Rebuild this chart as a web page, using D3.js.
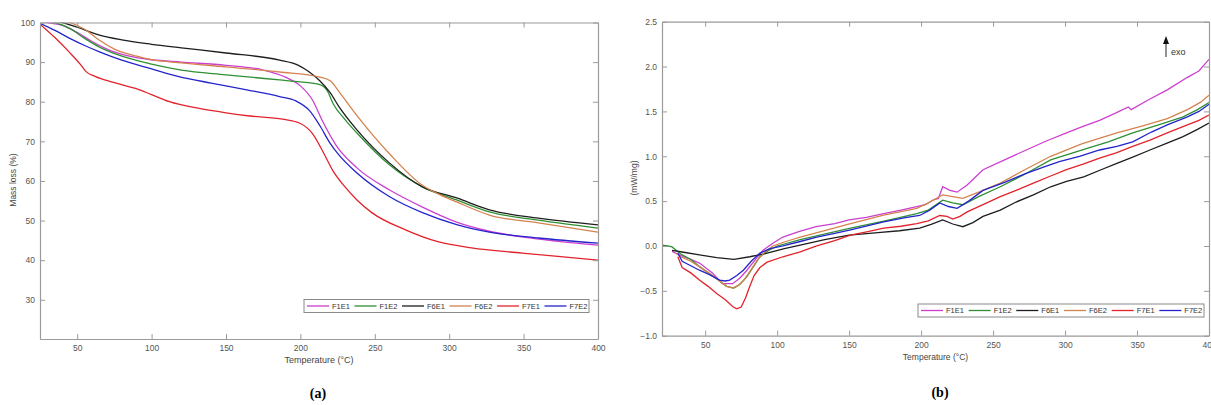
<!DOCTYPE html>
<html>
<head>
<meta charset="utf-8">
<script src="https://cdn.jsdelivr.net/npm/d3@7"></script>
<style>
  body { margin: 0; background: #fff; }
  text { font-family: "Liberation Sans", Arial, sans-serif; }
  .ax path, .ax line { stroke: #9a9a9a; }
  .ax text { fill: #555; }
</style>
</head>
<body>
<script>
// series names, as in the legends
var names = ["F1E1", "F1E2", "F6E1", "F6E2", "F7E1", "F7E2"];
var colors = ["#cc3fd0", "#2f8f35", "#1e1e1e", "#d4834f", "#e3222c", "#2424cc"];

// (a) TGA: [temperature, mass %]
var tgaF1E1 = [[25,100.5],[30,100],[40,99.3],[50,97.5],[60,95.2],[70,93.3],[85,91.5],[100,90.6],[120,90],[150,89.2],[175,88],[190,86.2],[200,84],[208,80.5],[215,75],[224,69],[238,63.3],[260,57.7],[282,53.4],[305,49.6],[327,47.3],[350,45.8],[375,44.7],[400,43.8]];
var tgaF1E2 = [[28,100.5],[35,100],[45,98.5],[55,96],[65,93.8],[80,91.5],[100,89.5],[120,88],[150,86.8],[186,85.5],[200,85],[213,84.3],[218,82.8],[222,79.5],[230,75.5],[238,72.1],[260,64],[282,58.5],[305,55.2],[327,52.2],[360,50.1],[400,48.1]];
var tgaF6E1 = [[30,100.5],[40,100],[50,98.8],[65,96.8],[80,95.6],[100,94.5],[120,93.6],[150,92.3],[186,90.5],[198,89.3],[206,87.5],[213,85.3],[220,82.3],[226,78.7],[238,72.9],[260,64.5],[282,58.5],[305,55.7],[327,52.7],[360,50.6],[400,48.9]];
var tgaF6E2 = [[35,101],[45,100],[55,98.3],[65,95.5],[75,93.3],[90,91.5],[100,90.6],[120,89.8],[150,88.8],[186,87.5],[213,86.2],[220,85.3],[226,82.5],[238,76.5],[260,66.8],[282,58.9],[295,56.3],[305,54.7],[327,51.4],[360,49.4],[400,47.1]];
var tgaF7E1 = [[25,99.6],[35,96.2],[45,92.4],[52,89.5],[56,87.6],[62,86.4],[75,84.8],[92,83],[100,81.8],[112,80],[132,78.3],[150,77.2],[166,76.4],[188,75.6],[200,74.5],[208,72],[215,67.5],[222,62.5],[230,58.5],[238,55.2],[248,52],[271,47.6],[293,44.6],[315,43.1],[349,41.8],[400,40]];
var tgaF7E2 = [[25,99.8],[35,98],[45,96],[55,94.2],[65,92.6],[80,90.5],[100,88.3],[119,86.3],[140,84.7],[164,83],[186,81.3],[197,80.2],[206,77.8],[213,74],[220,69.5],[226,66.5],[238,62],[260,56],[282,52],[305,49],[327,47.1],[360,45.6],[400,44.3]];

// (b) DSC: [temperature, mW/mg]
var dscF1E1 = [[27,-0.06],[32,-0.10],[40,-0.15],[46,-0.19],[55,-0.30],[62,-0.42],[69,-0.42],[74,-0.36],[79,-0.27],[85,-0.15],[90,-0.05],[97,0.03],[104,0.10],[115,0.16],[127,0.215],[140,0.25],[150,0.29],[162,0.32],[174,0.36],[186,0.40],[197,0.44],[203,0.46],[208,0.51],[212,0.53],[215,0.66],[220,0.62],[225,0.60],[232,0.68],[243,0.85],[258,0.96],[273,1.07],[287,1.17],[301,1.26],[312,1.33],[324,1.40],[335,1.48],[344,1.55],[346,1.52],[358,1.63],[371,1.74],[385,1.88],[393,1.95],[400,2.08]];
var dscF1E2 = [[20,0.01],[24,0.0],[27,-0.01],[30,-0.05],[33,-0.09],[40,-0.15],[46,-0.23],[55,-0.33],[65,-0.45],[70,-0.47],[74,-0.43],[79,-0.34],[84,-0.22],[88,-0.12],[94,-0.05],[100,0.0],[116,0.07],[135,0.14],[151,0.20],[175,0.28],[197,0.36],[205,0.40],[215,0.51],[222,0.48],[229,0.46],[240,0.55],[255,0.66],[272,0.80],[290,0.96],[312,1.07],[330,1.16],[347,1.26],[365,1.35],[382,1.44],[392,1.52],[400,1.60]];
var dscF6E1 = [[27,-0.05],[35,-0.07],[46,-0.10],[58,-0.13],[70,-0.15],[81,-0.12],[93,-0.08],[105,-0.03],[116,0.01],[133,0.07],[150,0.12],[170,0.15],[185,0.17],[199,0.20],[207,0.24],[215,0.29],[222,0.245],[229,0.215],[236,0.26],[243,0.33],[255,0.40],[266,0.49],[278,0.57],[290,0.66],[301,0.72],[313,0.77],[325,0.85],[336,0.92],[347,0.99],[359,1.07],[370,1.14],[382,1.22],[392,1.30],[400,1.37]];
var dscF6E2 = [[30,-0.08],[33,-0.12],[40,-0.17],[46,-0.23],[55,-0.33],[65,-0.45],[69,-0.47],[73,-0.44],[77,-0.38],[82,-0.26],[86,-0.16],[92,-0.06],[97,0.0],[106,0.05],[116,0.10],[133,0.17],[151,0.25],[174,0.345],[197,0.42],[205,0.48],[215,0.57],[222,0.55],[229,0.53],[240,0.60],[255,0.70],[272,0.85],[290,1.0],[312,1.14],[336,1.26],[354,1.34],[371,1.42],[385,1.52],[394,1.60],[400,1.68]];
var dscF7E1 = [[31,-0.12],[34,-0.24],[40,-0.30],[46,-0.38],[52,-0.45],[58,-0.53],[64,-0.60],[69.5,-0.68],[72,-0.70],[75,-0.68],[78,-0.58],[81,-0.45],[84,-0.33],[88,-0.24],[93,-0.18],[104,-0.12],[115,-0.07],[127.5,0.0],[140,0.06],[151,0.12],[163,0.16],[174,0.20],[186,0.22],[197,0.25],[205,0.28],[213,0.34],[218,0.33],[222,0.30],[227,0.33],[232,0.38],[243,0.46],[255,0.55],[266,0.62],[278,0.70],[290,0.78],[301,0.85],[312,0.91],[324,0.98],[336,1.04],[347,1.11],[359,1.18],[371,1.26],[385,1.35],[393,1.40],[400,1.46]];
var dscF7E2 = [[31,-0.08],[34,-0.17],[40,-0.22],[46,-0.27],[53,-0.32],[60,-0.38],[64,-0.39],[67,-0.38],[72,-0.33],[76.5,-0.27],[82,-0.17],[88,-0.08],[95,-0.03],[104,0.0],[116,0.05],[127.5,0.10],[140,0.14],[151,0.18],[174,0.27],[190,0.32],[199,0.34],[206,0.40],[213,0.48],[219,0.44],[225,0.42],[233,0.50],[243,0.62],[258,0.71],[273,0.81],[285,0.88],[296,0.94],[310,1.0],[324,1.07],[336,1.11],[347,1.16],[360,1.27],[371,1.35],[385,1.44],[393,1.50],[400,1.58]];

var xTicks = [50, 100, 150, 200, 250, 300, 350, 400];
var tgaTicks = [30, 40, 50, 60, 70, 80, 90, 100];
var dscTicks = [-1, -0.5, 0, 0.5, 1, 1.5, 2, 2.5];

var svg = d3.select("body").append("svg")
  .attr("width", 1211).attr("height", 405);
svg.append("rect").attr("width", 1211).attr("height", 405).attr("fill", "#fff");

function panel(o) {
  var x = d3.scaleLinear().domain(o.xDom).range(o.xR);
  var y = d3.scaleLinear().domain(o.yDom).range(o.yR);
  var g = svg.append("g");

  g.append("clipPath").attr("id", o.id).append("rect")
    .attr("x", o.xR[0]).attr("y", o.yR[1])
    .attr("width", o.xR[1] - o.xR[0]).attr("height", o.yR[0] - o.yR[1]);

  var line = d3.line().x(function(d) { return x(d[0]); }).y(function(d) { return y(d[1]); })
    .curve(o.curve);
  g.append("g").attr("clip-path", "url(#" + o.id + ")")
    .selectAll("path").data(o.series).enter().append("path")
    .attr("d", line).attr("fill", "none")
    .attr("stroke", function(d, i) { return colors[i]; })
    .attr("stroke-width", 1.3);

  // box with inward ticks
  g.append("g").attr("class", "ax").attr("transform", "translate(0," + o.yR[0] + ")")
    .call(d3.axisBottom(x).tickValues(xTicks).tickSizeInner(-5).tickSizeOuter(0).tickPadding(6))
    .call(function(s) { s.selectAll("text").style("font-size", "8.5px"); });
  g.append("g").attr("class", "ax").attr("transform", "translate(0," + o.yR[1] + ")")
    .call(d3.axisTop(x).tickValues(xTicks).tickSizeInner(-5).tickSizeOuter(0).tickFormat(""));
  g.append("g").attr("class", "ax").attr("transform", "translate(" + o.xR[0] + ",0)")
    .call(d3.axisLeft(y).tickValues(o.yTicks).tickSizeInner(-5).tickSizeOuter(0).tickPadding(5))
    .call(function(s) { s.selectAll("text").style("font-size", "8.5px"); });
  g.append("g").attr("class", "ax").attr("transform", "translate(" + o.xR[1] + ",0)")
    .call(d3.axisRight(y).tickValues(o.yTicks).tickSizeInner(-5).tickSizeOuter(0).tickFormat(""));
  g.selectAll(".ax .domain").attr("stroke-width", 1.2);

  g.append("text").attr("x", (o.xR[0] + o.xR[1]) / 2).attr("y", o.yR[0] + 24)
    .attr("text-anchor", "middle").attr("fill", "#444").style("font-size", o.labSize)
    .text("Temperature (°C)");
  g.append("text")
    .attr("transform", "translate(" + o.yLabX + "," + o.yLabY + ") rotate(-90)")
    .attr("text-anchor", "middle").attr("fill", "#444").style("font-size", "8.5px")
    .text(o.yLabel);

  // legend
  var lg = g.append("g").attr("transform", "translate(" + o.leg[0] + "," + o.leg[1] + ")");
  lg.append("rect").attr("width", o.leg[2]).attr("height", 13)
    .attr("fill", "#fff").attr("stroke", "#8a8a8a").attr("stroke-width", 1);
  var step = o.leg[2] / names.length;
  var it = lg.selectAll("g.it").data(names).enter().append("g")
    .attr("transform", function(d, i) { return "translate(" + (3 + i * step) + ",0)"; });
  it.append("line").attr("x1", 0).attr("x2", 22).attr("y1", 6.5).attr("y2", 6.5)
    .attr("stroke", function(d, i) { return colors[i]; }).attr("stroke-width", 1.3);
  it.append("text").attr("x", 25).attr("y", 9.3).attr("fill", "#333")
    .style("font-size", "7.5px").text(function(d) { return d; });

  g.append("text").attr("x", o.cap[0]).attr("y", o.cap[1]).attr("text-anchor", "middle")
    .style("font-family", "'Liberation Serif', 'Times New Roman', serif")
    .style("font-weight", "bold").style("font-size", "14px").text(o.capText);
  return g;
}

panel({
  id: "clipA", xDom: [25, 400], xR: [40, 598], yDom: [20.1, 100], yR: [339, 22.5],
  yTicks: tgaTicks, series: [tgaF1E1, tgaF1E2, tgaF6E1, tgaF6E2, tgaF7E1, tgaF7E2],
  curve: d3.curveMonotoneX, labSize: "9px", yLabel: "Mass loss (%)", yLabX: 16, yLabY: 180,
  leg: [304, 299.5, 285], cap: [318, 398], capText: "(a)"
});

var b = panel({
  id: "clipB", xDom: [20, 400], xR: [662, 1209], yDom: [-1, 2.5], yR: [335.7, 21.7],
  yTicks: dscTicks, series: [dscF1E1, dscF1E2, dscF6E1, dscF6E2, dscF7E1, dscF7E2],
  curve: d3.curveLinear, labSize: "8.5px", yLabel: "(mW/mg)", yLabX: 637, yLabY: 178,
  leg: [918, 304, 286], cap: [940, 397], capText: "(b)"
});

// exo arrow
b.append("line").attr("x1", 1166).attr("x2", 1166).attr("y1", 57).attr("y2", 42)
  .attr("stroke", "#222").attr("stroke-width", 1);
b.append("path").attr("d", "M1166,36 L1163,44 L1169,44 Z").attr("fill", "#111");
b.append("text").attr("x", 1171).attr("y", 55).attr("fill", "#333")
  .style("font-size", "9px").text("exo");
</script>
</body>
</html>
